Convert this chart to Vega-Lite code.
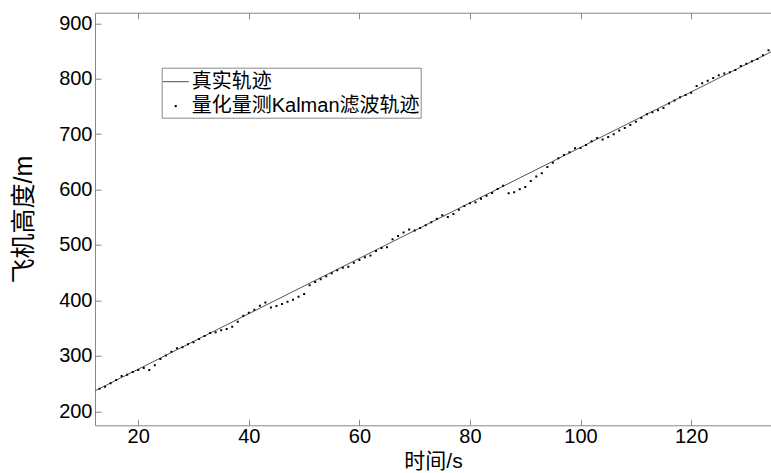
{
  "$schema": "https://vega.github.io/schema/vega-lite/v6.json",
  "autosize": "none",
  "width": 676,
  "height": 412.6,
  "padding": {"left": 95, "top": 12.7, "right": 0, "bottom": 47.7},
  "background": "white",
  "config": {
    "view": {"stroke": null},
    "axis": {
      "labelFont": "Liberation Sans",
      "labelFontSize": 20,
      "labelColor": "black",
      "domainColor": "#888",
      "tickColor": "#888",
      "tickSize": -6,
      "grid": false,
      "titleFont": "Liberation Sans, Noto Sans CJK SC",
      "titleFontSize": 25,
      "titleFontWeight": "normal",
      "titleColor": "black"
    },
    "legend": {
      "orient": "none",
      "legendX": 66.7,
      "legendY": 55,
      "strokeColor": "#888",
      "fillColor": "white",
      "padding": 1,
      "symbolSize": 676,
      "symbolStrokeWidth": 0,
      "labelFont": "Liberation Sans, Noto Sans CJK SC",
      "labelFontSize": 20,
      "labelColor": "black",
      "labelOffset": 3,
      "labelLimit": 400,
      "rowPadding": 1.4
    }
  },
  "datasets": {
    "truth": [
      {"t": 12, "h": 236},
      {"t": 135, "h": 851}
    ],
    "kalman": [
      {"t": 13, "h": 240.8, "series": "量化量测Kalman滤波轨迹"},
      {"t": 14, "h": 244.4, "series": "量化量测Kalman滤波轨迹"},
      {"t": 15, "h": 250.5, "series": "量化量测Kalman滤波轨迹"},
      {"t": 16, "h": 256.5, "series": "量化量测Kalman滤波轨迹"},
      {"t": 17, "h": 263.7, "series": "量化量测Kalman滤波轨迹"},
      {"t": 18, "h": 266.1, "series": "量化量测Kalman滤波轨迹"},
      {"t": 19, "h": 270.9, "series": "量化量测Kalman滤波轨迹"},
      {"t": 20, "h": 274.5, "series": "量化量测Kalman滤波轨迹"},
      {"t": 21, "h": 278.1, "series": "量化量测Kalman滤波轨迹"},
      {"t": 22, "h": 274.5, "series": "量化量测Kalman滤波轨迹"},
      {"t": 23, "h": 282.9, "series": "量化量测Kalman滤波轨迹"},
      {"t": 24, "h": 294.3, "series": "量化量测Kalman滤波轨迹"},
      {"t": 25, "h": 300.4, "series": "量化量测Kalman滤波轨迹"},
      {"t": 26, "h": 307.6, "series": "量化量测Kalman滤波轨迹"},
      {"t": 27, "h": 313.6, "series": "量化量测Kalman滤波轨迹"},
      {"t": 28, "h": 315.4, "series": "量化量测Kalman滤波轨迹"},
      {"t": 29, "h": 320.8, "series": "量化量测Kalman滤波轨迹"},
      {"t": 30, "h": 324.4, "series": "量化量测Kalman滤波轨迹"},
      {"t": 31, "h": 330.4, "series": "量化量测Kalman滤波轨迹"},
      {"t": 32, "h": 335.8, "series": "量化量测Kalman滤波轨迹"},
      {"t": 33, "h": 341.3, "series": "量化量测Kalman滤波轨迹"},
      {"t": 34, "h": 342.5, "series": "量化量测Kalman滤波轨迹"},
      {"t": 35, "h": 346.1, "series": "量化量测Kalman滤波轨迹"},
      {"t": 36, "h": 348.5, "series": "量化量测Kalman滤波轨迹"},
      {"t": 37, "h": 352.7, "series": "量化量测Kalman滤波轨迹"},
      {"t": 38, "h": 361.7, "series": "量化量测Kalman滤波轨迹"},
      {"t": 39, "h": 372.5, "series": "量化量测Kalman滤波轨迹"},
      {"t": 40, "h": 377.9, "series": "量化量测Kalman滤波轨迹"},
      {"t": 41, "h": 383.3, "series": "量化量测Kalman滤波轨迹"},
      {"t": 42, "h": 390.3, "series": "量化量测Kalman滤波轨迹"},
      {"t": 43, "h": 396, "series": "量化量测Kalman滤波轨迹"},
      {"t": 44, "h": 387, "series": "量化量测Kalman滤波轨迹"},
      {"t": 45, "h": 390, "series": "量化量测Kalman滤波轨迹"},
      {"t": 46, "h": 393.6, "series": "量化量测Kalman滤波轨迹"},
      {"t": 47, "h": 397.8, "series": "量化量测Kalman滤波轨迹"},
      {"t": 48, "h": 401.4, "series": "量化量测Kalman滤波轨迹"},
      {"t": 49, "h": 406.8, "series": "量化量测Kalman滤波轨迹"},
      {"t": 50, "h": 411.6, "series": "量化量测Kalman滤波轨迹"},
      {"t": 51, "h": 427.2, "series": "量化量测Kalman滤波轨迹"},
      {"t": 52, "h": 433.3, "series": "量化量测Kalman滤波轨迹"},
      {"t": 53, "h": 438.1, "series": "量化量测Kalman滤波轨迹"},
      {"t": 54, "h": 443.5, "series": "量化量测Kalman滤波轨迹"},
      {"t": 55, "h": 448.9, "series": "量化量测Kalman滤波轨迹"},
      {"t": 56, "h": 454.3, "series": "量化量测Kalman滤波轨迹"},
      {"t": 57, "h": 459.1, "series": "量化量测Kalman滤波轨迹"},
      {"t": 58, "h": 460.9, "series": "量化量测Kalman滤波轨迹"},
      {"t": 59, "h": 468.1, "series": "量化量测Kalman滤波轨迹"},
      {"t": 60, "h": 472.9, "series": "量化量测Kalman滤波轨迹"},
      {"t": 61, "h": 477.8, "series": "量化量测Kalman滤波轨迹"},
      {"t": 62, "h": 480.8, "series": "量化量测Kalman滤波轨迹"},
      {"t": 63, "h": 489.2, "series": "量化量测Kalman滤波轨迹"},
      {"t": 64, "h": 494.6, "series": "量化量测Kalman滤波轨迹"},
      {"t": 65, "h": 495.8, "series": "量化量测Kalman滤波轨迹"},
      {"t": 66, "h": 510.2, "series": "量化量测Kalman滤波轨迹"},
      {"t": 67, "h": 516.2, "series": "量化量测Kalman滤波轨迹"},
      {"t": 68, "h": 522.3, "series": "量化量测Kalman滤波轨迹"},
      {"t": 69, "h": 527.7, "series": "量化量测Kalman滤波轨迹"},
      {"t": 70, "h": 525.9, "series": "量化量测Kalman滤波轨迹"},
      {"t": 71, "h": 530.7, "series": "量化量测Kalman滤波轨迹"},
      {"t": 72, "h": 535.5, "series": "量化量测Kalman滤波轨迹"},
      {"t": 73, "h": 540.9, "series": "量化量测Kalman滤波轨迹"},
      {"t": 74, "h": 547.5, "series": "量化量测Kalman滤波轨迹"},
      {"t": 75, "h": 553.5, "series": "量化量测Kalman滤波轨迹"},
      {"t": 76, "h": 550.5, "series": "量化量测Kalman滤波轨迹"},
      {"t": 77, "h": 555.9, "series": "量化量测Kalman滤波轨迹"},
      {"t": 78, "h": 563.7, "series": "量化量测Kalman滤波轨迹"},
      {"t": 79, "h": 570.4, "series": "量化量测Kalman滤波轨迹"},
      {"t": 80, "h": 575.2, "series": "量化量测Kalman滤波轨迹"},
      {"t": 81, "h": 577, "series": "量化量测Kalman滤波轨迹"},
      {"t": 82, "h": 583.6, "series": "量化量测Kalman滤波轨迹"},
      {"t": 83, "h": 589, "series": "量化量测Kalman滤波轨迹"},
      {"t": 84, "h": 593.8, "series": "量化量测Kalman滤波轨迹"},
      {"t": 85, "h": 601, "series": "量化量测Kalman滤波轨迹"},
      {"t": 86, "h": 607, "series": "量化量测Kalman滤波轨迹"},
      {"t": 87, "h": 593.2, "series": "量化量测Kalman滤波轨迹"},
      {"t": 88, "h": 595, "series": "量化量测Kalman滤波轨迹"},
      {"t": 89, "h": 600.4, "series": "量化量测Kalman滤波轨迹"},
      {"t": 90, "h": 604.6, "series": "量化量测Kalman滤波轨迹"},
      {"t": 91, "h": 615.5, "series": "量化量测Kalman滤波轨迹"},
      {"t": 92, "h": 623.3, "series": "量化量测Kalman滤波轨迹"},
      {"t": 93, "h": 629.3, "series": "量化量测Kalman滤波轨迹"},
      {"t": 94, "h": 640.7, "series": "量化量测Kalman滤波轨迹"},
      {"t": 95, "h": 648.5, "series": "量化量测Kalman滤波轨迹"},
      {"t": 96, "h": 656.4, "series": "量化量测Kalman滤波轨迹"},
      {"t": 97, "h": 662.4, "series": "量化量测Kalman滤波轨迹"},
      {"t": 98, "h": 667.2, "series": "量化量测Kalman滤波轨迹"},
      {"t": 99, "h": 674.4, "series": "量化量测Kalman滤波轨迹"},
      {"t": 100, "h": 675, "series": "量化量测Kalman滤波轨迹"},
      {"t": 101, "h": 680.4, "series": "量化量测Kalman滤波轨迹"},
      {"t": 102, "h": 687, "series": "量化量测Kalman滤波轨迹"},
      {"t": 103, "h": 693, "series": "量化量测Kalman滤波轨迹"},
      {"t": 104, "h": 690.3, "series": "量化量测Kalman滤波轨迹"},
      {"t": 105, "h": 694.8, "series": "量化量测Kalman滤波轨迹"},
      {"t": 106, "h": 699.6, "series": "量化量测Kalman滤波轨迹"},
      {"t": 107, "h": 706.3, "series": "量化量测Kalman滤波轨迹"},
      {"t": 108, "h": 711.1, "series": "量化量测Kalman滤波轨迹"},
      {"t": 109, "h": 716.5, "series": "量化量测Kalman滤波轨迹"},
      {"t": 110, "h": 722.5, "series": "量化量测Kalman滤波轨迹"},
      {"t": 111, "h": 729.1, "series": "量化量测Kalman滤波轨迹"},
      {"t": 112, "h": 735.7, "series": "量化量测Kalman滤波轨迹"},
      {"t": 113, "h": 739.3, "series": "量化量测Kalman滤波轨迹"},
      {"t": 114, "h": 742.9, "series": "量化量测Kalman滤波轨迹"},
      {"t": 115, "h": 747.2, "series": "量化量测Kalman滤波轨迹"},
      {"t": 116, "h": 755, "series": "量化量测Kalman滤波轨迹"},
      {"t": 117, "h": 760.4, "series": "量化量测Kalman滤波轨迹"},
      {"t": 118, "h": 766.4, "series": "量化量测Kalman滤波轨迹"},
      {"t": 119, "h": 770.6, "series": "量化量测Kalman滤波轨迹"},
      {"t": 120, "h": 774.8, "series": "量化量测Kalman滤波轨迹"},
      {"t": 121, "h": 786.8, "series": "量化量测Kalman滤波轨迹"},
      {"t": 122, "h": 791.6, "series": "量化量测Kalman滤波轨迹"},
      {"t": 123, "h": 796.4, "series": "量化量测Kalman滤波轨迹"},
      {"t": 124, "h": 801.3, "series": "量化量测Kalman滤波轨迹"},
      {"t": 125, "h": 806.1, "series": "量化量测Kalman滤波轨迹"},
      {"t": 126, "h": 809.1, "series": "量化量测Kalman滤波轨迹"},
      {"t": 127, "h": 811.5, "series": "量化量测Kalman滤波轨迹"},
      {"t": 128, "h": 815.7, "series": "量化量测Kalman滤波轨迹"},
      {"t": 129, "h": 822.9, "series": "量化量测Kalman滤波轨迹"},
      {"t": 130, "h": 827.1, "series": "量化量测Kalman滤波轨迹"},
      {"t": 131, "h": 831.3, "series": "量化量测Kalman滤波轨迹"},
      {"t": 132, "h": 835.5, "series": "量化量测Kalman滤波轨迹"},
      {"t": 133, "h": 842.1, "series": "量化量测Kalman滤波轨迹"},
      {"t": 134, "h": 851.1, "series": "量化量测Kalman滤波轨迹"}
    ]
  },
  "layer": [
    {
      "data": {"name": "truth"},
      "mark": {"type": "line", "color": "#555", "strokeWidth": 1, "clip": true},
      "encoding": {
        "x": {
          "field": "t", "type": "quantitative",
          "scale": {"domain": [12.18, 134.45], "nice": false, "zero": false},
          "axis": {"orient": "bottom", "values": [20, 40, 60, 80, 100, 120], "title": "时间/s", "titleFontSize": 21, "titlePadding": 4, "labelPadding": 7}
        },
        "y": {
          "field": "h", "type": "quantitative",
          "scale": {"domain": [174.7, 919], "nice": false, "zero": false},
          "axis": {"orient": "left", "values": [200, 300, 400, 500, 600, 700, 800, 900], "title": "飞机高度/m", "titlePadding": 22, "labelPadding": 9}
        }
      }
    },
    {
      "data": {"name": "kalman"},
      "mark": {"type": "point", "filled": true, "opacity": 1, "size": 625, "clip": true},
      "encoding": {
        "x": {
          "field": "t", "type": "quantitative",
          "axis": {"orient": "top", "values": [20, 40, 60, 80, 100, 120], "labels": false, "title": null}
        },
        "y": {"field": "h", "type": "quantitative"},
        "color": {
          "field": "series", "type": "nominal",
          "scale": {"domain": ["真实轨迹", "量化量测Kalman滤波轨迹"], "range": ["#555555", "#000000"]},
          "legend": {"title": null}
        },
        "shape": {
          "field": "series", "type": "nominal",
          "scale": {"domain": ["真实轨迹", "量化量测Kalman滤波轨迹"], "range": ["M-1,-0.04H1V0.04H-1Z", "M-0.08,-0.08H0.08V0.08H-0.08Z"]},
          "legend": {"title": null}
        }
      }
    }
  ],
  "resolve": {"axis": {"x": "independent"}}
}
